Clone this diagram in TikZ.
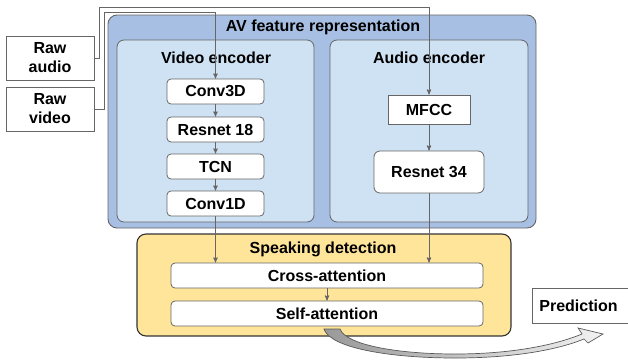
\documentclass[tikz,border=0pt]{standalone}
\usepackage{fontspec}
\setmainfont{Liberation Sans}
\usetikzlibrary{arrows}

\definecolor{avblue}{HTML}{A7BFE3}
\definecolor{encblue}{HTML}{CFE2F3}
\definecolor{detyellow}{HTML}{FFE599}
\definecolor{edgegray}{HTML}{666666}

\tikzset{
  every node/.style={font=\fontsize{16}{19}\selectfont\bfseries},
  block/.style={draw=edgegray, fill=white, rounded corners=4pt, line width=0.8pt,
    minimum width=97pt, minimum height=25pt, inner sep=0pt},
  plainbox/.style={draw=edgegray, fill=white, line width=0.8pt, inner sep=0pt},
  link/.style={draw=edgegray, line width=0.9pt, -stealth'},
}

\begin{document}
\begin{tikzpicture}[x=1pt,y=-1pt]
    \useasboundingbox (0,0) rectangle (628,359);

    % containers
    \draw[draw=edgegray, fill=avblue, rounded corners=9pt, line width=0.9pt] (108,15) rectangle (536,228);
    \draw[draw=edgegray, fill=encblue, rounded corners=7pt, line width=0.8pt] (117,40) rectangle (314,222);
    \draw[draw=edgegray, fill=encblue, rounded corners=7pt, line width=0.8pt] (330,40) rectangle (528,222);
    \draw[draw=black!80, fill=detyellow, rounded corners=9pt, line width=1.1pt] (137,234) rectangle (511,336);

    \node (avtitle) at (323,27) {AV feature representation};
    \node (vtitle) at (216,58) {Video encoder};
    \node (atitle) at (429,58) {Audio encoder};
    \node (stitle) at (323,249) {Speaking detection};

    % inputs
    \node[plainbox, minimum width=88pt, minimum height=44pt, align=center] (rawaudio) at (50,58) {Raw\\audio};
    \node[plainbox, minimum width=88pt, minimum height=44pt, align=center] (rawvideo) at (50,109) {Raw\\video};

    % video encoder
    \node[block] (conv3d) at (215.5,91.5) {Conv3D};
    \node[block] (res18) at (215.5,129.5) {Resnet 18};
    \node[block] (tcn) at (215.5,166.5) {TCN};
    \node[block] (conv1d) at (215.5,203.5) {Conv1D};

    % audio encoder
    \node[plainbox, minimum width=82pt, minimum height=29pt] (mfcc) at (429,109.5) {MFCC};
    \node[block, rounded corners=6pt, minimum width=110pt, minimum height=42pt] (res34) at (429,172) {Resnet 34};

    % speaking detection
    \node[block, minimum width=312pt] (cross) at (327,275.5) {Cross-attention};
    \node[block, minimum width=312pt] (self) at (327,313.5) {Self-attention};

    \node[plainbox, anchor=west, minimum height=35pt, text width=90pt, align=left, inner xsep=7pt] (pred) at (532,305.5) {Prediction};

    \coordinate (abend) at (99,7);
    \coordinate (vbend) at (104,12);

    \draw[link] (rawaudio.east) -| (abend) -| (mfcc.north);
    \draw[link] (rawvideo.east) -| (vbend) -| (conv3d.north);
    \draw[link] (conv3d) -- (res18);
    \draw[link] (res18) -- (tcn);
    \draw[link] (tcn) -- (conv1d);
    \draw[link] (mfcc) -- (res34);
    \draw[link] (conv1d.south) -- (conv1d.south |- cross.north);
    \draw[link] (res34.south) -- (res34.south |- cross.north);
    \draw[link] (cross) -- (self);

    % curved output arrow
    \draw[draw=black!65, line width=0.7pt, left color=black!40, right color=black!5]
      (324,329) .. controls (330,348) and (390,358) .. (455,358)
      .. controls (520,358) and (562,348) .. (584,339)
      -- (588,343) -- (603,334) -- (578,328) -- (582,334)
      .. controls (558,344) and (515,354) .. (455,354)
      .. controls (398,354) and (346,345) .. (340,329) -- cycle;
\end{tikzpicture}
\end{document}
